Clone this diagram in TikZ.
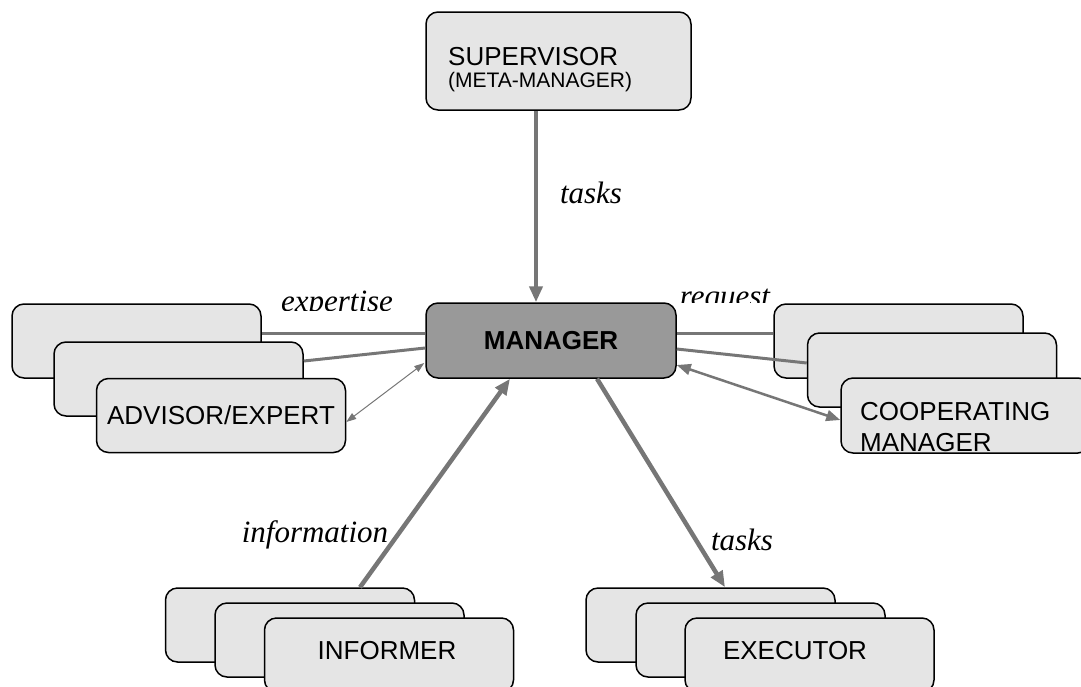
\documentclass[tikz,border=0pt]{standalone}
\usepackage{fontspec}
\setmainfont{Liberation Serif}
\setsansfont{Liberation Sans}
\usetikzlibrary{arrows.meta}
\definecolor{cardfill}{HTML}{E5E5E5}
\definecolor{mgrfill}{HTML}{999999}
\definecolor{linkgray}{HTML}{767676}

\begin{document}
\begin{tikzpicture}[x=1pt,y=-1pt,
  card/.style={draw=black, line width=1.5pt, rounded corners=12pt, fill=cardfill,
    minimum width=249pt, minimum height=74pt, inner sep=0pt,
    font=\sffamily\fontsize{26}{31}\selectfont},
  boss/.style={card, fill=mgrfill, minimum width=250pt, minimum height=75pt,
    font=\sffamily\bfseries\fontsize{26}{31}\selectfont},
  cardtext/.style={inner sep=0pt, anchor=base west, font=\sffamily\fontsize{26}{31}\selectfont},
  flowlabel/.style={inner sep=0pt, anchor=base, font=\itshape\fontsize{31}{36}\selectfont},
  link/.style={draw=linkgray, line width=3pt},
  bigarrow/.style={draw=linkgray, line width=4.5pt, -{Triangle[length=16pt,width=13pt]}},
  thinboth/.style={draw=linkgray, line width=1pt, {Triangle[length=10pt,width=7pt]}-{Triangle[length=10pt,width=7pt]}},
  boldboth/.style={draw=linkgray, line width=2.5pt, {Triangle[length=14pt,width=11pt]}-{Triangle[length=14pt,width=11pt]}}
]
\clip (0,0) rectangle (1081,686);

% supervisor and central manager
\node[card, minimum width=265pt, minimum height=98pt] (sup) at (558.5,61) {};
\node[cardtext] (supA) at (448,65) {SUPERVISOR};
\node[cardtext, font=\sffamily\fontsize{21}{25}\selectfont] (supB) at (448,87) {(META-MANAGER)};
\node[boss] (mgr) at (551,340.5) {MANAGER};

% advisors / experts (left stack)
\node[card] (adv1) at (136.5,341) {};
\node[card] (adv2) at (178.5,379) {};
\node[card] (adv3) at (221,415.5) {ADVISOR/EXPERT};

% cooperating managers (right stack)
\node[card] (coop1) at (898.5,341) {};
\node[card] (coop2) at (932,370) {};
\node[card, minimum height=75pt] (coop3) at (965.5,415.5) {};
\node[cardtext] (coopA) at (860,420) {COOPERATING};
\node[cardtext] (coopB) at (860,451) {MANAGER};

% informers (bottom left stack)
\node[card] (inf1) at (290,625) {};
\node[card] (inf2) at (339.5,640) {};
\node[card] (inf3) at (389,655) {};
\node[cardtext, anchor=base] (infT) at (387,659) {INFORMER};

% executors (bottom right stack)
\node[card] (exe1) at (710.5,625) {};
\node[card] (exe2) at (760.5,640) {};
\node[card] (exe3) at (809.5,655) {};
\node[cardtext, anchor=base] (exeT) at (795,659) {EXECUTOR};

% connectors
\draw[bigarrow] ([xshift=-22.5pt]sup.south) -- ([xshift=-22.5pt]sup.south |- mgr.north);
\draw[link] ([yshift=8pt]adv1.east) -- ([yshift=8pt]adv1.east -| mgr.west);
\draw[link] ([yshift=18pt]adv2.east) -- ([yshift=-7.5pt]mgr.west);
\draw[thinboth] ([yshift=-6.5pt]adv3.east) -- ([xshift=-1pt,yshift=-22.5pt]mgr.west);
\draw[link] ([yshift=8pt]coop1.west -| mgr.east) -- ([yshift=8pt]coop1.west);
\draw[link] ([yshift=-8.5pt]mgr.east) -- ([yshift=7pt]coop2.west);
\draw[boldboth] ([yshift=-24.5pt]mgr.east) -- ([yshift=-4.5pt]coop3.west);
\draw[bigarrow] ([xshift=70pt]inf1.north) -- ([xshift=-41pt]mgr.south);
\draw[bigarrow] ([xshift=46pt]mgr.south) -- ([xshift=14.5pt]exe1.north);

% flow labels
\node[flowlabel] (lblSup) at (591,203) {tasks};
\begin{scope}
  \clip (255,270) rectangle (420,310.5);
  \node[flowlabel] (lblExp) at (337,311) {expertise};
\end{scope}
\begin{scope}
  \clip (670,270) rectangle (790,302);
  \node[flowlabel] (lblReq) at (725,306) {request};
\end{scope}
\node[flowlabel] (lblInf) at (315,542) {information};
\node[flowlabel] (lblExe) at (742,550) {tasks};
\end{tikzpicture}
\end{document}
